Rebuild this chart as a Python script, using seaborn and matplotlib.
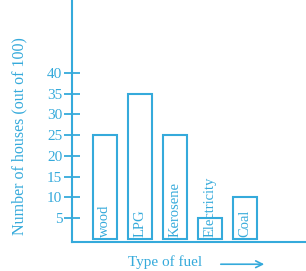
"""
Gráfico de barras: tipo de combustível usado nas casas
"""

import matplotlib.pyplot as plt
import seaborn as sns
import pandas as pd

# Dados
fuels = ['wood', 'LPG', 'Kerosene', 'Electricity', 'Coal']
houses = [25, 35, 25, 5, 10]
yticks = [5, 10, 15, 20, 25, 30, 35, 40]

BLUE = '#35aadb'

sns.set_theme(style="white")
plt.rcParams['font.family'] = ['Liberation Serif', 'DejaVu Serif']

df = pd.DataFrame({'fuel': fuels, 'houses': houses})

fig = plt.figure(figsize=(3.06, 2.71), dpi=100)
ax = fig.add_axes([0.235, 0.107, 0.765, 0.893])

sns.barplot(data=df, x='fuel', y='houses', ax=ax, width=0.69,
            color='white', edgecolor=BLUE, linewidth=1.5, saturation=1)

# Rótulos dentro das barras
for i, name in enumerate(fuels):
    ax.text(i, 0.3, name, rotation=90, ha='center', va='bottom',
            color=BLUE, fontsize=10.5)

ax.set_xlim(-0.943, 5.74)
ax.set_ylim(-0.8, 57.6)
ax.set_xticks([])
ax.set_yticks(yticks)
ax.tick_params(axis='y', left=True, direction='inout', length=12, width=1.3,
               color=BLUE, labelcolor=BLUE, labelsize=11, pad=1)

for side in ['top', 'right']:
    ax.spines[side].set_visible(False)
for side in ['left', 'bottom']:
    ax.spines[side].set_color(BLUE)
    ax.spines[side].set_linewidth(1.5)

ax.set_xlabel('')
ax.set_ylabel('Number of houses (out of 100)', color=BLUE, fontsize=11.5)
ax.yaxis.set_label_coords(-0.19, 0.438)

# Título do eixo x com seta
fig.text(0.418, 0.033, 'Type of fuel', color=BLUE, fontsize=11,
         ha='left', va='center')
ax.annotate('', xy=(267 / 306, 0.025), xytext=(218 / 306, 0.025),
            xycoords='figure fraction',
            arrowprops=dict(arrowstyle='->', color=BLUE, lw=1.2))

plt.savefig('out.png', dpi=100)
